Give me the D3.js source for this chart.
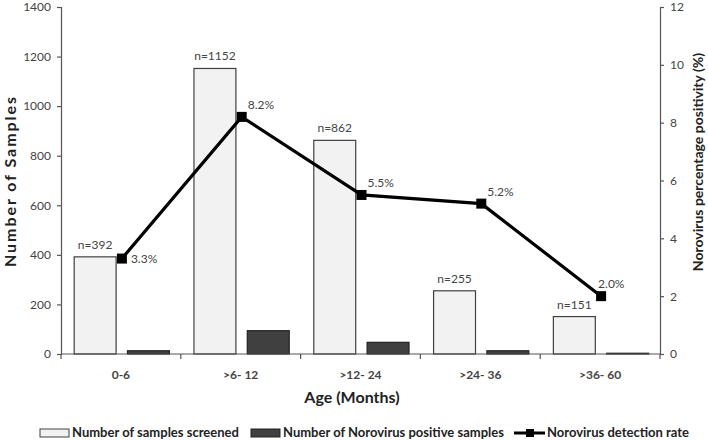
<!DOCTYPE html>
<html><head><meta charset="utf-8">
<script src="https://cdn.jsdelivr.net/npm/d3@7/dist/d3.min.js"></script>
<style>body{margin:0;background:#fff}svg{display:block}text{font-family:Lato,"Open Sans",sans-serif}</style>
</head><body><svg id="c" width="708" height="441"></svg>
<script>
const categories = ["0-6", ">6- 12", ">12- 24", ">24- 36", ">36- 60"];
const screened = [392, 1152, 862, 255, 151];
const positive = [13, 94, 47, 13, 3];
const rate = [3.3, 8.2, 5.5, 5.2, 2.0];
const leftTicks = [0, 200, 400, 600, 800, 1000, 1200, 1400];
const rightTicks = [0, 2, 4, 6, 8, 10, 12];

const svg = d3.select("#c");
const m = {l: 61, r: 48, t: 7, b: 87};
const W = 708, H = 441;
const x = d3.scaleBand().domain(categories).range([m.l, W - m.r]);
const y = d3.scaleLinear().domain([0, 1400]).range([H - m.b, m.t]);
const y2 = d3.scaleLinear().domain([0, 12]).range([H - m.b, m.t]);
const bw = x.bandwidth();
const barW = bw * 0.35, off1 = bw * 0.11, off2 = bw * 0.555;
const txtCol = "#444";

// bars
svg.append("g").selectAll("rect").data(categories).join("rect")
  .attr("x", d => x(d) + off1).attr("width", barW)
  .attr("y", (d, i) => y(screened[i])).attr("height", (d, i) => y(0) - y(screened[i]))
  .attr("fill", "#f2f2f2").attr("stroke", "#404040").attr("stroke-width", 1.2);
svg.append("g").selectAll("rect").data(categories).join("rect")
  .attr("x", d => x(d) + off2).attr("width", barW)
  .attr("y", (d, i) => y(positive[i])).attr("height", (d, i) => y(0) - y(positive[i]))
  .attr("fill", "#404040").attr("stroke", "#222").attr("stroke-width", 1.2);

// n labels
svg.append("g").selectAll("text").data(categories).join("text")
  .attr("x", d => x(d) + off1 + barW / 2).attr("y", (d, i) => y(screened[i]) - 8)
  .attr("text-anchor", "middle").attr("font-size", 12).attr("fill", txtCol)
  .text((d, i) => "n=" + screened[i]);

// axes
const gx = svg.append("g").attr("transform", `translate(0,${y(0)})`);
gx.append("line").attr("x1", m.l).attr("x2", W - m.r).attr("stroke", "#555").attr("stroke-width", 1.2);
const bounds = categories.map(d => x(d)).concat([x(categories[categories.length - 1]) + bw]);
gx.selectAll("line.t").data(bounds).join("line").attr("class", "t")
  .attr("x1", d => d).attr("x2", d => d).attr("y1", 0).attr("y2", 5).attr("stroke", "#555").attr("stroke-width", 1.2);
gx.selectAll("text").data(categories).join("text")
  .attr("x", d => x(d) + bw / 2).attr("y", 25).attr("text-anchor", "middle")
  .attr("font-size", 12).attr("font-weight", "bold").attr("fill", txtCol).text(d => d);

const gl = svg.append("g").attr("transform", `translate(${m.l},0)`)
  .call(d3.axisLeft(y).tickValues(leftTicks).tickFormat(d3.format("d")).tickSize(4).tickPadding(6));
const gr = svg.append("g").attr("transform", `translate(${W - m.r},0)`)
  .call(d3.axisRight(y2).tickValues(rightTicks).tickFormat(d3.format("d")).tickSize(4).tickPadding(6));
[gl, gr].forEach(g => {
  g.select(".domain").attr("stroke", "#555").attr("stroke-width", 1.2);
  g.selectAll(".tick line").attr("stroke", "#555").attr("stroke-width", 1.2);
  g.selectAll(".tick text").attr("font-size", 12).attr("fill", txtCol)
    .style("font-family", "Lato,'Open Sans',sans-serif");
});

// line
const pts = categories.map((d, i) => [x(d) + bw / 2 + 1, y2(rate[i])]);
svg.append("path").attr("d", d3.line()(pts)).attr("fill", "none")
  .attr("stroke", "#000").attr("stroke-width", 3.2);
svg.append("g").selectAll("rect").data(pts).join("rect")
  .attr("x", d => d[0] - 5).attr("y", d => d[1] - 5).attr("width", 10).attr("height", 10).attr("fill", "#000");
svg.append("g").selectAll("text").data(pts).join("text")
  .attr("x", (d, i) => d[0] + (i === 0 ? 9 : i === 4 ? -3 : 6))
  .attr("y", (d, i) => d[1] + (i === 0 ? 4 : -8))
  .attr("font-size", 12).attr("fill", txtCol)
  .text((d, i) => rate[i].toFixed(1) + "%");

// axis titles
svg.append("text").attr("x", 352).attr("y", 403).attr("text-anchor", "middle")
  .attr("font-size", 16).attr("font-weight", "bold").attr("fill", "#222").text("Age (Months)");
svg.append("text").attr("transform", `translate(16,182) rotate(-90)`)
  .attr("text-anchor", "middle").attr("font-size", 16).attr("font-weight", "bold").attr("fill", "#222")
  .attr("textLength", 170).attr("lengthAdjust", "spacing").text("Number of Samples");
svg.append("text").attr("transform", `translate(703,162) rotate(-90)`)
  .attr("text-anchor", "middle").attr("font-size", 14).attr("font-weight", "bold").attr("fill", "#222")
  .text("Norovirus percentage positivity (%)");

// legend
const lg = svg.append("g").attr("transform", "translate(0,434)");
lg.append("rect").attr("x", 40).attr("y", -5).attr("width", 29).attr("height", 8).attr("fill", "#f2f2f2").attr("stroke", "#404040");
lg.append("text").attr("x", 72).attr("y", 3).attr("font-size", 13).attr("font-weight", "bold").attr("fill", "#222").text("Number of samples screened");
lg.append("rect").attr("x", 251).attr("y", -5).attr("width", 29).attr("height", 8).attr("fill", "#404040").attr("stroke", "#222");
lg.append("text").attr("x", 283).attr("y", 3).attr("font-size", 13).attr("font-weight", "bold").attr("fill", "#222").text("Number of Norovirus positive samples");
lg.append("line").attr("x1", 514).attr("x2", 545).attr("y1", -1).attr("y2", -1).attr("stroke", "#000").attr("stroke-width", 3);
lg.append("rect").attr("x", 526).attr("y", -5).attr("width", 8).attr("height", 8).attr("fill", "#000");
lg.append("text").attr("x", 547).attr("y", 3).attr("font-size", 13).attr("font-weight", "bold").attr("fill", "#222").text("Norovirus detection rate");
</script></body></html>
